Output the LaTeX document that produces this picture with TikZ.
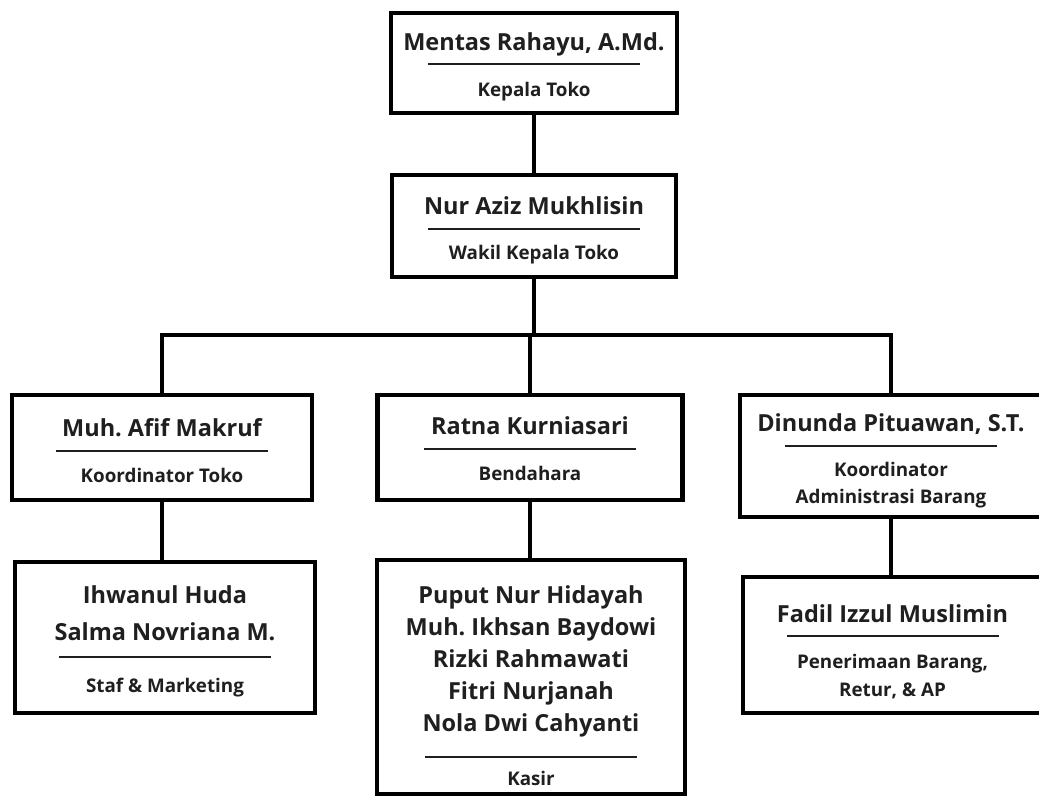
\documentclass[tikz,border=0pt]{standalone}
\usepackage{fontspec}
\setmainfont{Open Sans}
\usetikzlibrary{positioning}

\newcommand{\namefont}{\fontsize{23.5}{32}\selectfont\bfseries}
\newcommand{\rolefont}{\fontsize{18.8}{26}\selectfont\bfseries}
\newcommand{\sepline}{\rule[3pt]{212pt}{2pt}}
\newcommand{\lift}[1]{\rule{0pt}{#1pt}}

\tikzset{
  box/.style={draw=black, line width=4.8pt, fill=white, align=center,
              inner sep=0pt, text=black!88, font=\namefont},
  link/.style={draw=black, line width=4.8pt},
}

\begin{document}
\begin{tikzpicture}[x=1pt, y=-1pt]

    % canvas of the reference
    \useasboundingbox (0,0) rectangle (1039,797);

    % Top of the store
    \node[box, minimum width=286pt, minimum height=100pt] (kepala) at (534,63)
        {\lift{25}Mentas Rahayu, A.Md.\\[-14pt]\sepline\\[-4pt]\rolefont Kepala Toko};
    \node[box, minimum width=284pt, minimum height=102pt] (wakil) at (534,226)
        {\lift{27}Nur Aziz Mukhlisin\\[-14pt]\sepline\\[-5pt]\rolefont Wakil Kepala Toko};

    % Coordinators
    \node[box, minimum width=300pt, minimum height=105pt] (koordinator) at (162,447.5)
        {\lift{25}Muh.\ Afif Makruf\\[-14pt]\sepline\\[-4pt]\rolefont Koordinator Toko};
    \node[box, minimum width=305pt, minimum height=105pt] (bendahara) at (530,447.5)
        {\lift{21}Ratna Kurniasari\\[-14pt]\sepline\\[-4pt]\rolefont Bendahara};
    \node[box, minimum width=302pt, minimum height=122pt] (admin) at (891,456)
        {\lift{28}Dinunda Pituawan, S.T.\\[-14pt]\sepline\\[-5pt]\rolefont Koordinator\\[-5pt]\rolefont Administrasi Barang};

    % Staff
    \node[box, minimum width=300pt, minimum height=151pt] (staf) at (165,637.5)
        {\lift{25}Ihwanul Huda\\[5pt]Salma Novriana M.\\[-11pt]\sepline\\[-1pt]\rolefont Staf \& Marketing};
    \node[box, minimum width=308pt, minimum height=234pt] (kasir) at (531,677)
        {\lift{36}Puput Nur Hidayah\\Muh.\ Ikhsan Baydowi\\Rizki Rahmawati\\Fitri Nurjanah\\Nola Dwi Cahyanti\\[-3pt]\sepline\\[-7pt]\rolefont Kasir};
    \node[box, minimum width=299pt, minimum height=136pt] (penerimaan) at (892.5,645)
        {\lift{31}Fadil Izzul Muslimin\\[-14pt]\sepline\\[-4pt]\rolefont Penerimaan Barang,\\[-4pt]\rolefont Retur, \& AP};

    % Connectors
    \coordinate (bar) at (0,335);
    \draw[link] (kepala.south) -- (kepala.south |- wakil.north);
    \draw[link] (wakil.south) -- (wakil.south |- bar);
    \draw[link] (koordinator.north) -- (koordinator.north |- bar) -- (admin.north |- bar) -- (admin.north);
    \draw[link] (bendahara.north) -- (bendahara.north |- bar);
    \draw[link] (koordinator.south) -- (koordinator.south |- staf.north);
    \draw[link] (bendahara.south) -- (bendahara.south |- kasir.north);
    \draw[link] (admin.south) -- (admin.south |- penerimaan.north);

\end{tikzpicture}
\end{document}
